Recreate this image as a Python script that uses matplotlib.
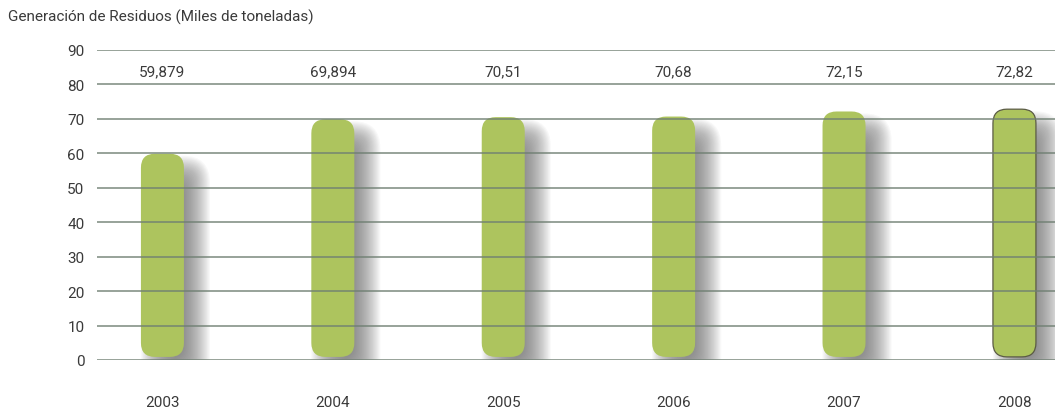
import matplotlib.pyplot as plt
from matplotlib.patches import FancyBboxPatch
import numpy as np

years = ['2003', '2004', '2005', '2006', '2007', '2008']
values = [59.879, 69.894, 70.51, 70.68, 72.15, 72.82]
value_labels = ['59,879', '69,894', '70,51', '70,68', '72,15', '72,82']
yticks = [0, 10, 20, 30, 40, 50, 60, 70, 80, 90]

barcolor = '#adc45e'
linecolor = '#6f7f72'
textcolor = '#3a3a3a'

plt.rcParams['font.family'] = ['Roboto', 'DejaVu Sans']

W, H = 1055, 410
fig = plt.figure(figsize=(W / 100, H / 100), dpi=100)
ax = fig.add_axes([97 / W, 49 / H, 958 / W, 310 / H])

xmin, xmax = -0.384, 5.238
ymin, ymax = 0, 90
ax.set_xlim(xmin, xmax)
ax.set_ylim(ymin, ymax)

# size of one pixel in data units
px_x = (xmax - xmin) / 958
px_y = (ymax - ymin) / 310

bw = 43 * px_x
base = 0.9
rad = 14 * px_x
aspect = px_y / px_x

x = np.arange(len(years))

for xi, v, lab, yr in zip(x, values, value_labels, years):
    h = v - base
    # soft drop shadow, stacked translucent boxes
    dx, dy = 13 * px_x, -15 * px_y
    n = 24
    for k in range(n):
        g = 13 - 26 * k / (n - 1)
        sx, sy = g * px_x, g * px_y
        sh = FancyBboxPatch((xi - bw / 2 + dx - sx, base + dy - sy),
                            bw + 2 * sx, h + 2 * sy,
                            boxstyle=f'round,pad=0,rounding_size={rad + max(sx, 0)}',
                            mutation_aspect=aspect,
                            fc='#606060', ec='none', alpha=0.042, zorder=1)
        ax.add_patch(sh)
    bar = FancyBboxPatch((xi - bw / 2, base), bw, h,
                         boxstyle=f'round,pad=0,rounding_size={rad}',
                         mutation_aspect=aspect,
                         fc=barcolor,
                         ec='#5b5b45' if yr == '2008' else 'none',
                         lw=0.9, zorder=2)
    ax.add_patch(bar)
    ax.text(xi, 83.7, lab, ha='center', va='center', fontsize=11,
            color=textcolor)

# horizontal rules over the bars
for t in yticks:
    ax.axhline(t, color=linecolor, lw=1.2, alpha=0.85, zorder=3)

ax.set_yticks(yticks)
ax.set_xticks(x)
ax.set_xticklabels(years)
ax.tick_params(axis='y', length=0, pad=9, labelsize=11, labelcolor=textcolor)
ax.tick_params(axis='x', length=0, pad=25, labelsize=11, labelcolor=textcolor)
for s in ax.spines.values():
    s.set_visible(False)

fig.text(8 / W, 1 - 17 / H, 'Generación de Residuos (Miles de toneladas)',
         ha='left', va='center', fontsize=11, color=textcolor)

fig.savefig('out.png', dpi=100)
